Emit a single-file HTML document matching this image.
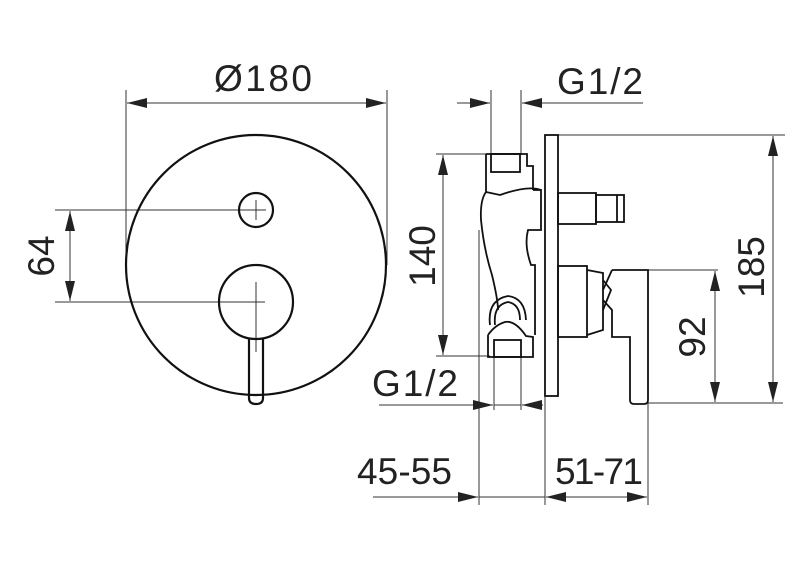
<!DOCTYPE html>
<html><head><meta charset="utf-8"><style>html,body{margin:0;padding:0;background:#fff}svg{display:block}</style></head><body>
<svg width="800" height="572" viewBox="0 0 800 572" xmlns="http://www.w3.org/2000/svg" font-family="Liberation Sans, DejaVu Sans, sans-serif">
<defs>
<marker id="a" markerWidth="20" markerHeight="10" refX="20" refY="5" orient="auto" markerUnits="userSpaceOnUse"><path d="M0,0 L20,5 L0,10 Z" fill="#222"/></marker>
</defs>
<g stroke="#333" stroke-width="1" fill="none">
<line x1="126" y1="90" x2="126" y2="265"/>
<line x1="387" y1="90" x2="387" y2="265"/>
<line x1="256" y1="103" x2="127" y2="103" marker-end="url(#a)"/>
<line x1="256" y1="103" x2="386" y2="103" marker-end="url(#a)"/>
<line x1="55" y1="210" x2="266" y2="210"/>
<line x1="55" y1="302" x2="265" y2="302"/>
<line x1="70" y1="256" x2="70" y2="211" marker-end="url(#a)"/>
<line x1="70" y1="256" x2="70" y2="301" marker-end="url(#a)"/>
<line x1="256" y1="200" x2="256" y2="220"/>
<line x1="256" y1="282" x2="256" y2="352"/>
</g>
<g stroke="#111" stroke-width="2.2" fill="none">
<circle cx="256" cy="265" r="130"/>
<circle cx="256" cy="210" r="17"/>
<circle cx="256" cy="302" r="37"/>
<path d="M249,338 L249,398 Q249,404 256,404 Q263,404 263,398 L263,338"/>
</g>
<text x="263" y="91" font-size="37" text-anchor="middle" fill="#222" textLength="98">Ø180</text>
<text transform="translate(54,256) rotate(-90)" font-size="37" text-anchor="middle" fill="#222">64</text>

<g stroke="#333" stroke-width="1" fill="none">
<line x1="491" y1="90" x2="491" y2="155"/>
<line x1="521" y1="90" x2="521" y2="155"/>
<line x1="457" y1="103" x2="490" y2="103" marker-end="url(#a)"/>
<line x1="643" y1="103" x2="522" y2="103" marker-end="url(#a)"/>
<line x1="558" y1="135" x2="785" y2="135"/>
<line x1="436" y1="154" x2="490" y2="154"/>
<line x1="436" y1="356" x2="490" y2="356"/>
<line x1="443" y1="255" x2="443" y2="155" marker-end="url(#a)"/>
<line x1="443" y1="255" x2="443" y2="355" marker-end="url(#a)"/>
<line x1="479" y1="230" x2="479" y2="505"/>
<line x1="494" y1="356" x2="494" y2="410"/>
<line x1="521" y1="356" x2="521" y2="410"/>
<line x1="545" y1="396" x2="545" y2="505"/>
<line x1="648" y1="380" x2="648" y2="505"/>
<line x1="379" y1="405" x2="493" y2="405" marker-end="url(#a)"/>
<line x1="494" y1="405" x2="521" y2="405"/>
<line x1="543" y1="405" x2="522" y2="405" marker-end="url(#a)"/>
<line x1="373" y1="497" x2="478" y2="497" marker-end="url(#a)"/>
<line x1="479" y1="497" x2="545" y2="497"/>
<line x1="596" y1="497" x2="546" y2="497" marker-end="url(#a)"/>
<line x1="596" y1="497" x2="647" y2="497" marker-end="url(#a)"/>
<line x1="648" y1="270" x2="718" y2="270"/>
<line x1="648" y1="403" x2="783" y2="403"/>
<line x1="715" y1="336" x2="715" y2="271" marker-end="url(#a)"/>
<line x1="715" y1="336" x2="715" y2="402" marker-end="url(#a)"/>
<line x1="773" y1="270" x2="773" y2="136" marker-end="url(#a)"/>
<line x1="773" y1="270" x2="773" y2="402" marker-end="url(#a)"/>
</g>
<g stroke="#111" stroke-width="1.8" fill="none">
<rect x="545" y="135" width="13" height="261"/>
<path d="M486,154 L527,154 L527,166 L533,166 L533,190"/>
<rect x="491" y="154" width="29" height="18"/>
<path d="M486,154 L486,192 Q480,200 481,220 Q484,250 492,275 Q498,300 498,310"/>
<path d="M533,190 L541,190 L541,230 L528,230 Q524,245 531,265 L535,265 L535,335"/>
<path d="M541,190 Q528,185 500,195 L486,192"/>
<path d="M488,335 L488,357 L533,357 L533,337 L526,336 Q515,320 505,322 Q495,325 488,335"/>
<rect x="494" y="340" width="27" height="17"/>
<path d="M490,325 Q487,300 508,296 Q525,298 526,320"/>
<path d="M495,325 Q493,305 508,302 Q520,304 520,320"/>
<rect x="558" y="193" width="38" height="31"/>
<rect x="596" y="195" width="28" height="27"/>
<line x1="617" y1="195" x2="617" y2="222"/>
<rect x="558" y="266" width="29" height="71"/>
<path d="M587,270 L603,273 L603,330 L587,335"/>
<path d="M603,280 L611,290 L603,310"/>
<path d="M612,270 L648,270 L648,335 L648,400 Q648,404 644,404 L634,404 Q630,404 630,400 L630,337 L612,337 L612,310 L603,300"/>
<path d="M612,270 L603,290"/>
</g>
<g font-size="37" fill="#222">
<text x="557" y="94" textLength="86">G1/2</text>
<text x="372" y="396" textLength="86">G1/2</text>
<text x="357" y="484" textLength="95">45-55</text>
<text x="555" y="484" textLength="88">51-71</text>
<text transform="translate(435,256) rotate(-90)" text-anchor="middle">140</text>
<text transform="translate(705,337) rotate(-90)" text-anchor="middle">92</text>
<text transform="translate(764,267) rotate(-90)" text-anchor="middle">185</text>
</g>
</svg>
</body></html>
